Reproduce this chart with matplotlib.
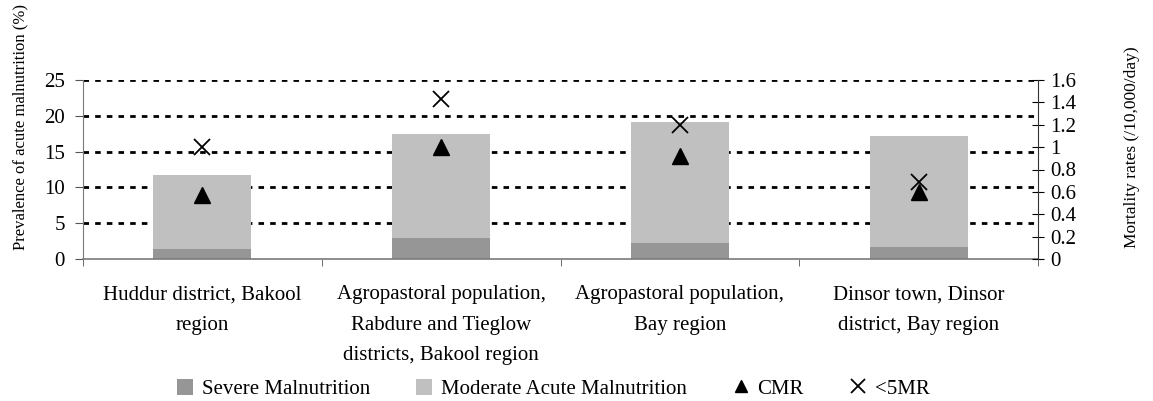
import numpy as np
import matplotlib
matplotlib.use('Agg')
import matplotlib.pyplot as plt
from matplotlib.lines import Line2D
from matplotlib.patches import Patch

plt.rcParams['font.family'] = ['Liberation Serif', 'DejaVu Serif']

categories = ['Huddur district, Bakool\nregion',
              'Agropastoral population,\nRabdure and Tieglow\ndistricts, Bakool region',
              'Agropastoral population,\nBay region',
              'Dinsor town, Dinsor\ndistrict, Bay region']
severe = [1.4, 2.9, 2.2, 1.7]
moderate = [10.3, 14.6, 17.0, 15.5]
cmr = [0.57, 1.0, 0.92, 0.6]
u5mr = [1.0, 1.43, 1.2, 0.69]

left_ticks = [0, 5, 10, 15, 20, 25]
right_ticks = [0, 0.2, 0.4, 0.6, 0.8, 1.0, 1.2, 1.4, 1.6]
right_labels = ['0', '0.2', '0.4', '0.6', '0.8', '1', '1.2', '1.4', '1.6']

SEVERE_C = '#969696'
MODERATE_C = '#c0c0c0'
FS = 15

fig = plt.figure(figsize=(11.53, 4.01), dpi=100)
ax = fig.add_axes([83 / 1153, 1 - 259 / 401, (1038 - 83) / 1153, (259 - 80) / 401])
x = np.arange(len(categories))

# dotted gridlines behind bars
for t in left_ticks[1:]:
    ax.axhline(t, color='black', lw=2.0, linestyle=(0, (2.0, 2.2)), zorder=0)

ax.bar(x, severe, width=0.41, color=SEVERE_C, zorder=2)
ax.bar(x, moderate, width=0.41, bottom=severe, color=MODERATE_C, zorder=2)

ax.set_xlim(-0.5, len(categories) - 0.5)
ax.set_ylim(0, 25)
ax.set_yticks(left_ticks)
ax.set_yticklabels([str(t) for t in left_ticks], fontsize=FS)
ax.set_xticks(x)
ax.set_xticklabels(categories, fontsize=FS, linespacing=1.8)
ax.set_xticks(np.arange(-0.5, len(categories)), minor=True)
ax.tick_params(axis='x', which='major', length=0, pad=19)
ax.tick_params(axis='x', which='minor', length=5, direction='out', color='#555555')
ax.tick_params(axis='y', length=6, direction='out', color='#555555', pad=7)
for s in ['top', 'right']:
    ax.spines[s].set_visible(False)
ax.spines['left'].set_color('#7a7a7a')
ax.spines['bottom'].set_color('#7a7a7a')
ax.spines['bottom'].set_linewidth(1.2)

ax2 = ax.twinx()
ax2.set_ylim(0, 1.6)
ax2.set_yticks(right_ticks)
ax2.set_yticklabels(right_labels, fontsize=FS)
ax2.tick_params(axis='y', direction='inout', length=9, color='black', pad=4)
for s in ['top', 'left', 'bottom']:
    ax2.spines[s].set_visible(False)
ax2.spines['right'].set_color('#333333')
ax2.plot(x, cmr, linestyle='none', marker='^', color='black', markersize=11, zorder=5)
ax2.plot(x, u5mr, linestyle='none', marker='x', color='black', markersize=11,
         markeredgewidth=1.3, zorder=5)

fig.text(20 / 1153, 1 - 127 / 401, 'Prevalence of acute malnutrition (%)',
         rotation=90, ha='center', va='center', fontsize=12)
fig.text(1132 / 1153, 1 - 147 / 401, 'Mortality rates (/10,000/day)',
         rotation=90, ha='center', va='center', fontsize=12.5)

handles = [Patch(facecolor=SEVERE_C, edgecolor='none'),
           Patch(facecolor=MODERATE_C, edgecolor='none'),
           Line2D([], [], linestyle='none', marker='^', color='black', markersize=9),
           Line2D([], [], linestyle='none', marker='x', color='black', markersize=10,
                  markeredgewidth=1.3)]
labels = ['Severe Malnutrition', 'Moderate Acute Malnutrition', 'CMR', '<5MR']
fig.legend(handles, labels, loc='center', bbox_to_anchor=(553 / 1153, 1 - 389 / 401),
           ncol=4, frameon=False, fontsize=FS, handlelength=0.8, handleheight=0.8,
           handletextpad=0.4, columnspacing=2.2)

fig.savefig('out.png', dpi=100)
